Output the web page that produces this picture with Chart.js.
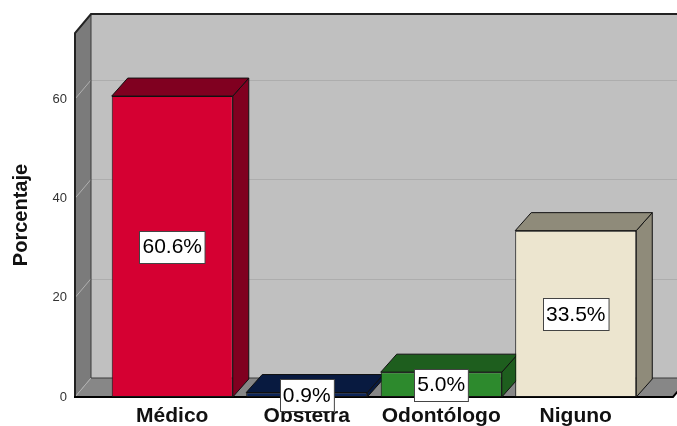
<!DOCTYPE html>
<html><head><meta charset="utf-8">
<script src="https://cdn.jsdelivr.net/npm/chart.js@4.4.1/dist/chart.umd.min.js"></script>
<style>html,body{margin:0;padding:0;background:#fff;overflow:hidden}canvas{display:block}</style>
</head><body>
<canvas id="c" width="677" height="426" style="width:677px;height:426px"></canvas>
<script>
const categories = ['Médico', 'Obstetra', 'Odontólogo', 'Niguno'];
const porcentajes = [60.6, 0.9, 5.0, 33.5];
const yTickValues = [0, 20, 40, 60];
const yMax = 73.3;
const frontColors = ['#D50032', '#0D2559', '#2D8A2D', '#ECE5CF'];
const shadeColors = ['#800020', '#081A40', '#1E5E1E', '#8F8B7A'];

const DX = 16, DY = -19, BDY = -18, SIDE_MARGIN = 30;

function poly(ctx, pts) {
  ctx.beginPath();
  ctx.moveTo(pts[0][0], pts[0][1]);
  for (let i = 1; i < pts.length; i++) ctx.lineTo(pts[i][0], pts[i][1]);
  ctx.closePath();
}

const plugin3d = {
  id: 'spss3d',
  beforeDatasetsDraw(chart) {
    const {ctx, chartArea: a, scales: {y}} = chart;
    const L = a.left - SIDE_MARGIN, R = a.right + SIDE_MARGIN, T = a.top, B = y.getPixelForValue(0);
    ctx.save();
    // back wall
    ctx.fillStyle = '#C0C0C0';
    ctx.fillRect(L + DX, T + DY, chart.width, B - T);
    // gridlines on back wall
    ctx.strokeStyle = '#ADADAD'; ctx.lineWidth = 1;
    yTickValues.forEach(v => {
      if (v === 0) return;
      const py = Math.round(y.getPixelForValue(v) + DY) + 0.5;
      ctx.beginPath(); ctx.moveTo(L + DX, py); ctx.lineTo(chart.width, py); ctx.stroke();
    });
    // left wall
    ctx.fillStyle = '#7B7B7B';
    poly(ctx, [[L, T], [L + DX, T + DY], [L + DX, B + DY], [L, B]]); ctx.fill();
    // floor
    ctx.fillStyle = '#878787';
    poly(ctx, [[L, B], [L + DX, B + DY], [R + DX, B + DY], [R, B]]); ctx.fill();
    // wall diagonal gridlines
    ctx.strokeStyle = '#B0B0B0'; ctx.lineWidth = 1;
    yTickValues.forEach(v => {
      const py = y.getPixelForValue(v);
      ctx.beginPath(); ctx.moveTo(L, py); ctx.lineTo(L + DX, py + DY); ctx.stroke();
    });
    // inner edges
    ctx.strokeStyle = '#3A3A3A'; ctx.lineWidth = 1;
    ctx.beginPath(); ctx.moveTo(L + DX, T + DY); ctx.lineTo(L + DX, B + DY); ctx.lineTo(R + DX, B + DY); ctx.stroke();
    // outer edges
    ctx.strokeStyle = '#222'; ctx.lineWidth = 2;
    ctx.beginPath(); ctx.moveTo(L, B); ctx.lineTo(L, T); ctx.lineTo(L + DX, T + DY); ctx.lineTo(chart.width, T + DY); ctx.stroke();
    ctx.strokeStyle = '#000';
    ctx.beginPath(); ctx.moveTo(L - 1, B); ctx.lineTo(R, B); ctx.lineTo(R + DX, B + DY); ctx.stroke();

    // bar top and side faces
    const meta = chart.getDatasetMeta(0);
    meta.data.forEach((el, i) => {
      const p = el.getProps(['x', 'y', 'base', 'width'], true);
      const x1 = p.x - p.width / 2, x2 = p.x + p.width / 2, yt = p.y, yb = p.base;
      ctx.fillStyle = shadeColors[i];
      ctx.strokeStyle = '#111'; ctx.lineWidth = 1;
      poly(ctx, [[x2, yt], [x2 + DX, yt + BDY], [x2 + DX, yb + BDY], [x2, yb]]);
      ctx.fill(); ctx.stroke();
      poly(ctx, [[x1, yt], [x1 + DX, yt + BDY], [x2 + DX, yt + BDY], [x2, yt]]);
      ctx.fill(); ctx.stroke();
    });
    ctx.restore();
  },
  afterDatasetsDraw(chart) {
    const {ctx} = chart;
    const meta = chart.getDatasetMeta(0);
    ctx.save();
    ctx.font = '21px "Liberation Sans", Arial, sans-serif';
    ctx.textAlign = 'center';
    ctx.textBaseline = 'middle';
    meta.data.forEach((el, i) => {
      const p = el.getProps(['x', 'y', 'base'], true);
      const txt = porcentajes[i].toFixed(1) + '%';
      const cy = (p.y + p.base) / 2;
      const w = ctx.measureText(txt).width + 6, h = 32;
      const bx = Math.round(p.x - w / 2) + 0.5, by = Math.round(cy - h / 2) + 0.5;
      ctx.fillStyle = '#fff';
      ctx.fillRect(bx, by, w, h);
      ctx.strokeStyle = '#444'; ctx.lineWidth = 1;
      ctx.strokeRect(bx, by, w, h);
      ctx.fillStyle = '#000';
      ctx.fillText(txt, p.x, cy + 1);
    });
    ctx.restore();
  }
};

new Chart(document.getElementById('c'), {
  type: 'bar',
  data: {
    labels: categories,
    datasets: [{
      data: porcentajes,
      backgroundColor: frontColors,
      borderColor: '#111',
      borderWidth: 1,
      borderSkipped: false,
      categoryPercentage: 1.0,
      barPercentage: 0.9
    }]
  },
  options: {
    responsive: false,
    animation: false,
    devicePixelRatio: 1,
    layout: {padding: {top: 33, right: 34, left: 0, bottom: 0}},
    plugins: {legend: {display: false}, tooltip: {enabled: false}},
    scales: {
      x: {
        grid: {display: false, drawTicks: false},
        border: {display: false},
        ticks: {color: '#111', padding: 7, font: {family: '"Liberation Sans", Arial, sans-serif', size: 21, weight: 'bold'}},
        afterFit(s) { s.height = 29; s.paddingLeft = 0; s.paddingRight = 0; }
      },
      y: {
        min: 0, max: yMax,
        grid: {display: false, drawTicks: false},
        border: {display: false},
        afterBuildTicks(s) { s.ticks = yTickValues.map(v => ({value: v})); },
        ticks: {color: '#333', padding: 38, font: {family: '"Liberation Sans", Arial, sans-serif', size: 13}},
        title: {display: true, text: 'Porcentaje', color: '#111', padding: {top: 9, bottom: 0}, font: {family: '"Liberation Sans", Arial, sans-serif', size: 20, weight: 'bold'}},
        afterFit(s) { s.width = 105; s.paddingTop = 0; s.paddingBottom = 0; }
      }
    }
  },
  plugins: [plugin3d]
});
</script>
</body></html>
